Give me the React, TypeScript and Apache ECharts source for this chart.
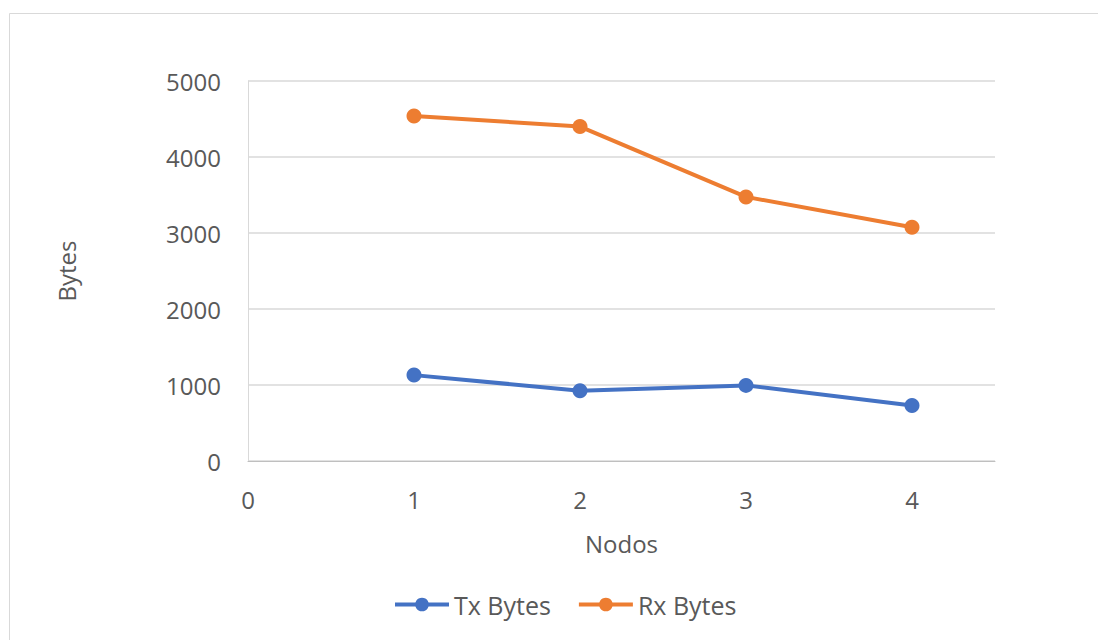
import React, { useEffect, useRef } from "react";
import * as echarts from "echarts";

const nodos = [1, 2, 3, 4];
const txBytes = [1130, 925, 995, 730];
const rxBytes = [4540, 4400, 3475, 3075];
const seriesNames = ["Tx Bytes", "Rx Bytes"];
const colors = ["#4472C4", "#ED7D31"];

export default function App() {
  const ref = useRef<HTMLDivElement>(null);
  useEffect(() => {
    if (!ref.current) return;
    const chart = echarts.init(ref.current, null, { renderer: "svg" });
    const font = "'Open Sans', 'Noto Sans', sans-serif";
    const textColor = "#595959";
    const fs = 24;
    chart.setOption({
      animation: false,
      backgroundColor: "#ffffff",
      textStyle: { fontFamily: font },
      graphic: [
        {
          type: "rect",
          shape: { x: 9.5, y: 13.5, width: 1100, height: 640 },
          style: { fill: "none", stroke: "#d9d9d9", lineWidth: 1 },
          silent: true,
        },
      ],
      grid: { left: 248, right: 103, top: 81, bottom: 179, containLabel: false },
      legend: {
        top: 592,
        left: 393,
        padding: 0,
        itemWidth: 54,
        itemHeight: 17,
        itemGap: 26,
        lineStyle: { width: 4 },
        textStyle: { fontSize: 25, color: textColor, fontFamily: font },
        data: seriesNames,
      },
      xAxis: {
        type: "value",
        min: 0,
        max: 4.5,
        interval: 1,
        name: "Nodos",
        nameLocation: "middle",
        nameGap: 70,
        nameTextStyle: { fontSize: fs, color: textColor, fontFamily: font },
        axisLine: { show: true, lineStyle: { color: "#bfbfbf", width: 1 } },
        axisTick: { show: false },
        splitLine: { show: false },
        axisLabel: {
          fontSize: fs,
          color: textColor,
          margin: 26,
          showMaxLabel: false,
          formatter: (v: number) => (Number.isInteger(v) ? String(v) : ""),
        },
      },
      yAxis: {
        type: "value",
        min: 0,
        max: 5000,
        interval: 1000,
        name: "Bytes",
        nameLocation: "middle",
        nameGap: 170,
        nameRotate: 90,
        nameTextStyle: { fontSize: fs, color: textColor, fontFamily: font },
        axisLine: { show: true, lineStyle: { color: "#d9d9d9", width: 1 } },
        axisTick: { show: false },
        splitLine: { show: true, lineStyle: { color: "#d9d9d9", width: 1.5 } },
        axisLabel: {
          fontSize: fs,
          color: textColor,
          margin: 27,
          formatter: (v: number) => String(v),
        },
      },
      series: [
        {
          name: seriesNames[0],
          type: "line",
          data: nodos.map((n, i) => [n, txBytes[i]]),
          color: colors[0],
          symbol: "circle",
          symbolSize: 15,
          lineStyle: { width: 4, color: colors[0] },
          itemStyle: { color: colors[0] },
        },
        {
          name: seriesNames[1],
          type: "line",
          data: nodos.map((n, i) => [n, rxBytes[i]]),
          color: colors[1],
          symbol: "circle",
          symbolSize: 15,
          lineStyle: { width: 4, color: colors[1] },
          itemStyle: { color: colors[1] },
        },
      ],
    });
    return () => chart.dispose();
  }, []);
  return (
    <div
      ref={ref}
      style={{ position: "fixed", left: 0, top: 0, width: 1098, height: 640 }}
    />
  );
}
